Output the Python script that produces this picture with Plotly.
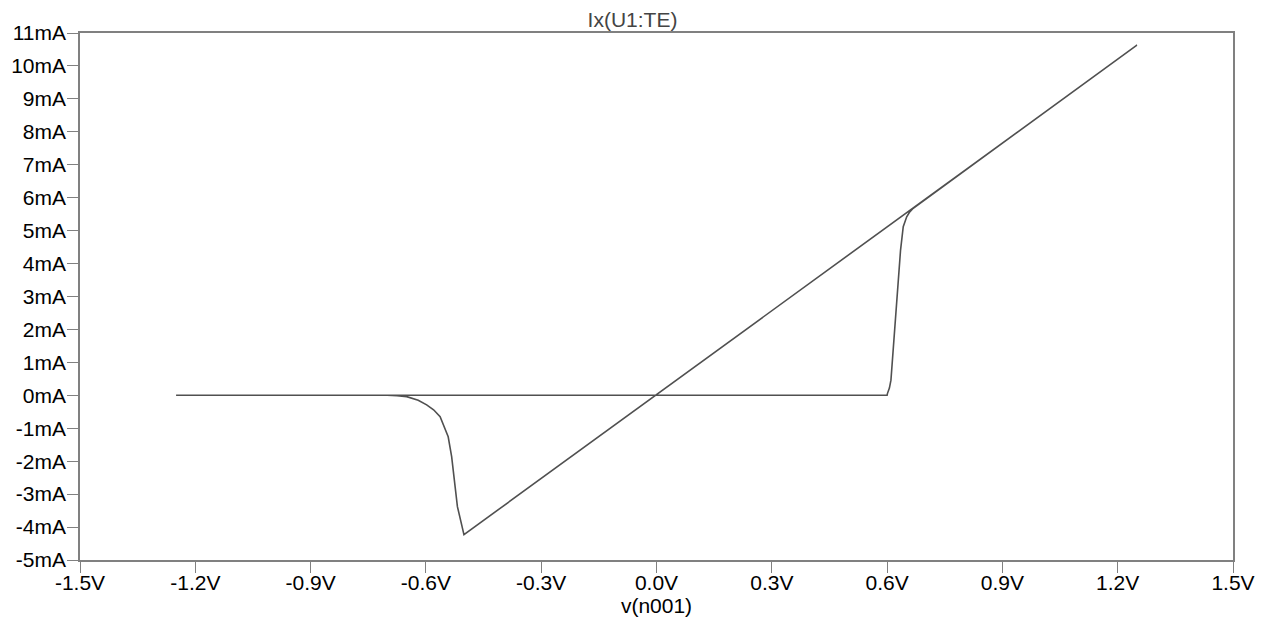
import plotly.graph_objects as go

# Sweep of v(n001) from -1.25 V up to 1.25 V and back down, current Ix(U1:TE) in mA
sweep_v = [
    -1.250, 0.600, 0.601, 0.606, 0.610, 0.616, 0.623, 0.629, 0.635, 0.642, 0.651, 0.659, 0.668,
    1.250,
    -0.501, -0.506, -0.511, -0.518, -0.524, -0.533, -0.542, -0.553, -0.563, -0.580, -0.598,
    -0.620, -0.650, -0.675, -0.701,
    -1.250,
]
sweep_i_ma = [
    0.00, 0.00, 0.06, 0.22, 0.46, 1.37, 2.39, 3.40, 4.41, 5.12, 5.42, 5.57, 5.68,
    10.63,
    -4.23, -3.98, -3.73, -3.38, -2.77, -1.86, -1.26, -0.92, -0.65, -0.44, -0.29,
    -0.15, -0.04, -0.01, 0.00,
    0.00,
]

x_ticks = [-1.5, -1.2, -0.9, -0.6, -0.3, 0.0, 0.3, 0.6, 0.9, 1.2, 1.5]
x_tick_text = ["-1.5V", "-1.2V", "-0.9V", "-0.6V", "-0.3V", "0.0V",
               "0.3V", "0.6V", "0.9V", "1.2V", "1.5V"]
y_ticks = list(range(-5, 12))
y_tick_text = [f"{v}mA" for v in y_ticks]

font_family = "Liberation Sans, Arial, sans-serif"
font_size = 21

fig = go.Figure(
    go.Scatter(
        x=sweep_v,
        y=sweep_i_ma,
        mode="lines",
        line=dict(color="#505050", width=1.6, shape="linear"),
        hoverinfo="skip",
    )
)

axis_common = dict(
    showgrid=False,
    zeroline=False,
    showline=True,
    mirror=True,
    linecolor="#808080",
    linewidth=1.5,
    ticks="outside",
    ticklen=11,
    tickwidth=1,
    tickcolor="#808080",
    automargin=False,
    tickfont=dict(family=font_family, size=font_size, color="#000000"),
)

fig.update_layout(
    width=1265,
    height=620,
    margin=dict(l=80, r=32, t=33, b=60),
    paper_bgcolor="white",
    plot_bgcolor="white",
    showlegend=False,
    title=dict(
        text="Ix(U1:TE)",
        x=0.5,
        xanchor="center",
        y=1 - 20 / 620,
        yanchor="middle",
        font=dict(family=font_family, size=font_size, color="#444444"),
    ),
    xaxis=dict(
        range=[-1.5, 1.5],
        tickvals=x_ticks,
        ticktext=x_tick_text,
        ticklabelstandoff=-8,
        title=dict(text="v(n001)", standoff=0,
                   font=dict(family=font_family, size=font_size, color="#000000")),
        **axis_common,
    ),
    yaxis=dict(
        range=[-5, 11],
        tickvals=y_ticks,
        ticktext=y_tick_text,
        ticklabelstandoff=-3,
        **axis_common,
    ),
)

fig.write_html("out.html")
